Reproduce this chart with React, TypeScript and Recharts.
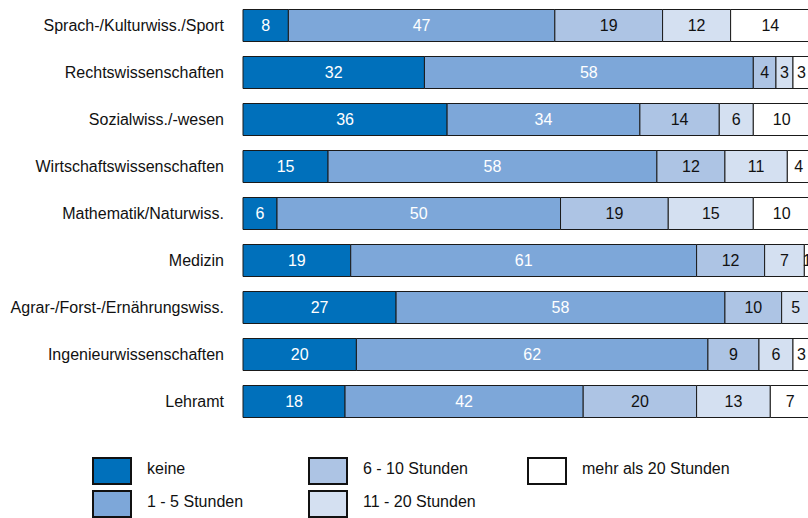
import { BarChart, Bar, XAxis, YAxis, LabelList } from "recharts";

const categories = [
  "Sprach-/Kulturwiss./Sport",
  "Rechtswissenschaften",
  "Sozialwiss./-wesen",
  "Wirtschaftswissenschaften",
  "Mathematik/Naturwiss.",
  "Medizin",
  "Agrar-/Forst-/Ernährungswiss.",
  "Ingenieurwissenschaften",
  "Lehramt",
];

const keine = [8, 32, 36, 15, 6, 19, 27, 20, 18];
const h1to5 = [47, 58, 34, 58, 50, 61, 58, 62, 42];
const h6to10 = [19, 4, 14, 12, 19, 12, 10, 9, 20];
const h11to20 = [12, 3, 6, 11, 15, 7, 5, 6, 13];
const over20 = [14, 3, 10, 4, 10, 1, 0, 3, 7];

const SERIES = [
  { key: "keine", name: "keine", fill: "#0070BB", text: "#ffffff" },
  { key: "h1to5", name: "1 - 5 Stunden", fill: "#7DA7D9", text: "#ffffff" },
  { key: "h6to10", name: "6 - 10 Stunden", fill: "#ADC4E4", text: "#111111" },
  { key: "h11to20", name: "11 - 20 Stunden", fill: "#D4E0F1", text: "#111111" },
  { key: "over20", name: "mehr als 20 Stunden", fill: "#FFFFFF", text: "#111111" },
];

const data = categories.map((name, i) => ({
  name,
  keine: keine[i],
  h1to5: h1to5[i],
  h6to10: h6to10[i],
  h11to20: h11to20[i],
  over20: over20[i],
}));

const FONT = "'Liberation Sans', Arial, sans-serif";

// legend boxes, two rows, three columns
const LEGEND_POS = [
  { x: 92, y: 457 },
  { x: 92, y: 490 },
  { x: 308, y: 457 },
  { x: 308, y: 490 },
  { x: 527, y: 457 },
];

export default function App() {
  return (
    <div
      style={{
        position: "absolute",
        left: 0,
        top: 0,
        width: 808,
        height: 518,
        overflow: "hidden",
        background: "#fff",
        fontFamily: FONT,
      }}
    >
      <BarChart
        width={810}
        height={518}
        data={data}
        layout="vertical"
        barSize={32}
        margin={{ top: 1.5, right: 0, left: 0, bottom: 93.5 }}
      >
        <XAxis type="number" domain={[0, 100]} hide />
        <YAxis
          dataKey="name"
          type="category"
          width={243}
          axisLine={false}
          tickLine={false}
          tickSize={0}
          tickMargin={19}
          tick={{ fill: "#111", fontSize: 16, fontFamily: FONT }}
        />
        {SERIES.map((s) => (
          <Bar
            key={s.key}
            dataKey={s.key}
            stackId="a"
            fill={s.fill}
            stroke="#1a1a1a"
            strokeWidth={1}
            isAnimationActive={false}
          >
            <LabelList
              dataKey={s.key}
              position="center"
              fill={s.text}
              fontSize={16}
              fontFamily={FONT}
              formatter={(v: number) => (v === 0 ? "" : v)}
            />
          </Bar>
        ))}
      </BarChart>
      {SERIES.map((s, i) => (
        <div key={s.key}>
          <div
            style={{
              position: "absolute",
              left: LEGEND_POS[i].x,
              top: LEGEND_POS[i].y,
              width: 36,
              height: 24,
              background: s.fill,
              border: "2px solid #111",
            }}
          />
          <div
            style={{
              position: "absolute",
              left: LEGEND_POS[i].x + 55,
              top: LEGEND_POS[i].y + 2,
              fontSize: 16,
              lineHeight: "20px",
              color: "#111",
            }}
          >
            {s.name}
          </div>
        </div>
      ))}
    </div>
  );
}
